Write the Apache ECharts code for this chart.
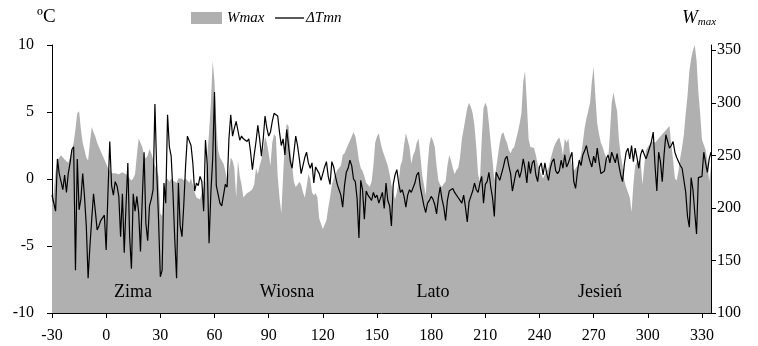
<!DOCTYPE html>
<html><head><meta charset="utf-8">
<script src="https://cdn.jsdelivr.net/npm/echarts@6/dist/echarts.min.js"></script>
<style>html,body{margin:0;padding:0;background:#fff}#c{width:758px;height:346px}</style>
</head><body><div id="c"></div>
<script>
const startDay = -30;
const xTicks = [-30,0,30,60,90,120,150,180,210,240,270,300,330];
const leftTicks = [-10,-5,0,5,10];
const rightTicks = [100,150,200,250,300,350];
const seasons = ['Zima','Wiosna','Lato','Jesień'];
const legendNames = ['Wmax','ΔTmn'];
// ΔTmn, daily from day -30 to 335
const dTmn = [
-1.2,-1.8,-2.4,1.5,0.4,0.4,-0.8,0.3,-1.0,0.4,
1.2,2.2,2.4,-6.8,1.5,-2.3,-1.5,0.4,-1.3,-3.5,
-7.4,-5.0,-3.0,-1.1,-2.4,-3.8,-3.5,-3.1,-2.9,-2.7,
-5.3,-1.0,2.8,-0.5,-1.2,-0.2,-0.5,-1.3,-4.3,-1.1,
-5.5,-2.0,1.2,-4.3,-6.7,-1.1,-2.4,-1.3,-2.5,-5.4,
-1.5,2.0,-3.3,-4.6,-2.0,-1.5,-0.8,5.6,0.7,-3.0,
-7.3,-6.8,-0.3,-1.8,4.8,2.4,1.7,-1.0,-4.5,-7.4,
-0.3,-3.5,-4.3,-1.9,1.0,3.2,3.2,2.5,1.2,-0.9,
-0.3,-0.5,0.2,-0.2,-2.4,2.9,1.0,-4.8,-1.0,1.5,
6.5,-0.5,-0.4,-1.8,-2.0,-2.1,-0.4,-0.6,3.0,4.8,
3.2,3.8,4.3,3.6,2.9,3.2,3.0,3.0,2.8,3.0,
2.0,0.7,1.8,2.8,4.0,3.0,1.7,3.0,4.7,3.8,
3.2,3.5,4.3,4.9,4.8,4.7,3.5,2.5,3.0,1.8,
3.7,2.5,1.3,0.8,2.0,3.2,2.5,1.5,0.4,1.0,
1.6,2.0,1.2,0.8,1.2,-0.3,0.9,1.0,0.4,-0.1,
0.0,0.9,1.3,0.2,-0.4,1.3,0.9,0.2,-0.4,-0.8,
-1.2,-2.1,-0.5,0.5,0.8,1.4,1.0,0.0,-0.2,-1.5,
-4.4,-0.1,-0.8,-3.0,-0.9,-1.2,-1.2,-1.6,-1.0,-1.4,
-1.2,-1.8,-1.7,-1.0,-2.2,-0.3,-1.6,-2.0,-3.5,-0.4,
0.3,0.7,-0.3,-1.0,-0.8,-1.3,-2.1,-1.2,-0.8,-1.0,
-0.9,-0.3,0.3,0.5,-0.6,-1.3,-2.0,-2.5,-1.8,-1.6,
-1.3,-1.5,-1.9,-2.6,-1.4,-0.6,-1.5,-2.1,-3.1,-1.6,
-0.9,-0.8,-0.7,-1.0,-1.1,-1.4,-1.6,-1.8,-1.2,-2.1,
-3.2,-1.7,-1.3,-0.9,-0.3,-0.8,-1.0,-0.3,0.2,-1.8,
-0.4,-0.2,0.5,-0.6,-1.4,-2.8,0.5,0.2,-0.1,0.4,
0.9,1.5,1.7,1.0,0.4,-0.9,-0.2,0.5,0.7,0.1,
0.6,1.5,0.8,-0.3,1.3,0.4,1.2,1.4,0.3,-0.2,
0.9,1.2,0.3,1.2,0.4,-0.1,0.8,1.3,1.5,0.6,
0.4,0.6,1.4,0.8,1.8,0.9,1.2,1.6,2.0,-0.2,
-0.7,0.5,1.4,1.0,1.8,2.1,2.5,1.8,1.3,0.9,
1.7,1.2,2.3,1.3,0.4,0.3,0.6,1.5,1.8,1.2,
2.0,1.6,1.2,1.9,1.0,0.3,-0.2,1.1,2.0,2.3,
1.5,2.5,1.3,2.3,1.6,0.8,1.8,2.2,2.3,1.5,
1.9,1.8,2.8,3.5,1.0,-0.9,2.0,1.3,-0.2,1.8,
3.3,2.8,2.3,2.5,2.8,2.0,1.6,1.3,1.0,0.8,
0.8,-1.0,-2.8,-3.6,0.1,-0.8,-2.5,-4.1,0.1,0.2,
0.2,2.0,1.2,0.5,1.5,2.0
];
// Wmax, daily from day -30 to 335
const wMax = [
205,215,235,245,248,250,248,246,245,243,
248,255,262,275,290,292,275,262,255,248,
245,262,277,272,268,262,258,254,250,246,
242,238,236,233,234,233,232,232,231,234,
233,232,230,228,226,228,232,250,266,262,
258,250,247,250,256,252,246,240,236,230,
195,192,215,226,228,225,228,226,226,224,
228,227,228,226,228,226,224,228,222,215,
210,210,208,215,220,225,250,272,300,340,
320,280,255,248,245,242,235,226,235,248,
245,238,210,245,230,222,210,212,214,215,
216,218,222,238,232,240,246,255,268,262,
252,240,262,270,268,230,210,195,230,263,
280,278,255,240,225,220,222,225,222,215,
210,220,232,228,215,212,214,210,190,185,
180,180,188,200,210,222,228,232,236,238,
240,250,252,256,260,264,268,272,268,258,
245,238,235,230,224,222,220,225,240,262,
268,271,262,255,250,245,240,232,222,215,
208,215,225,240,245,260,271,272,258,242,
250,254,262,266,250,232,222,212,240,260,
268,264,258,240,226,222,220,223,225,240,
250,245,238,232,236,238,248,265,275,285,
295,300,296,290,278,258,232,225,265,295,
300,296,280,262,245,226,238,250,262,270,
272,266,262,255,252,256,258,265,272,280,
290,320,330,300,265,258,257,257,250,242,
235,232,228,232,235,238,245,252,258,262,
265,267,260,250,266,262,266,250,240,235,
236,240,245,250,262,276,285,292,300,320,
334,305,280,270,262,258,252,248,245,270,
300,310,300,292,265,250,240,226,220,215,
210,196,222,240,244,244,245,222,240,255,
258,260,262,264,262,264,266,266,270,272,
274,276,278,260,246,228,226,235,248,258,
270,290,307,330,342,350,355,340,310,290,
265,260,255,245,225,240
];
const tData = dTmn.map((v,i)=>[startDay+i, v]);
const wData = wMax.map((v,i)=>[startDay+i, v]);
const serif = '"Liberation Serif","Times New Roman",serif';
const gray = '#b0b0b0';
const chart = echarts.init(document.getElementById('c'), null, {renderer:'canvas'});
const axisLine = {show:true, onZero:false, lineStyle:{color:'#000', width:1}};
const seasonX = [133, 287, 433, 600];
const txt = (x, y, text, extra) => Object.assign({type:'text', x:x, y:y, z:100,
  style:Object.assign({text:text, font:'18px '+serif, fill:'#000', align:'center', verticalAlign:'middle'}, extra||{})});
chart.setOption({
  animation:false,
  backgroundColor:'#fff',
  grid:{left:52, right:47, top:45, bottom:33},
  xAxis:{type:'value', min:-30, max:335, interval:30,
    axisLine:axisLine, splitLine:{show:false},
    axisTick:{show:true, length:5, customValues:xTicks, lineStyle:{color:'#000'}},
    axisLabel:{customValues:xTicks, fontFamily:serif, fontSize:16, color:'#000', margin:15}},
  yAxis:[
    {type:'value', min:-10, max:10, interval:5, position:'left',
      axisLine:axisLine, splitLine:{show:false},
      axisTick:{show:true, length:5, lineStyle:{color:'#000'}},
      axisLabel:{fontFamily:serif, fontSize:16, color:'#000', margin:18}},
    {type:'value', min:100, max:355, interval:50, position:'right',
      axisLine:axisLine, splitLine:{show:false},
      axisTick:{show:true, length:5, customValues:rightTicks, lineStyle:{color:'#000'}},
      axisLabel:{customValues:rightTicks, fontFamily:serif, fontSize:16, color:'#000', margin:6}}
  ],
  series:[
    {name:legendNames[0], type:'line', yAxisIndex:1, data:wData, symbol:'none', color:gray,
      lineStyle:{width:0}, areaStyle:{color:gray, opacity:1, origin:'start'}, z:1},
    {name:legendNames[1], type:'line', yAxisIndex:0, data:tData, symbol:'none', color:'#000',
      lineStyle:{width:1.2, color:'#000'}, z:2}
  ],
  graphic:[
    {type:'rect', z:100, shape:{x:191, y:12, width:31, height:12}, style:{fill:gray}},
    txt(227, 18, legendNames[0], {align:'left', font:'italic 15px '+serif}),
    {type:'line', z:100, shape:{x1:275, y1:18, x2:304, y2:18}, style:{stroke:'#000', lineWidth:1.3}},
    txt(306, 18, legendNames[1], {align:'left', font:'italic 15px '+serif}),
    {type:'text', left:37, top:8, z:100, style:{text:'ºC', font:'19px '+serif, fill:'#000'}},
    {type:'text', left:682, top:8, z:100, style:{text:'{w|W}{m|max}', font:'18px '+serif, fill:'#000',
      rich:{w:{fontFamily:serif, fontStyle:'italic', fontSize:19}, m:{fontFamily:serif, fontStyle:'italic', fontSize:11, padding:[10,0,0,0]}}}},
    txt(seasonX[0], 292, seasons[0]),
    txt(seasonX[1], 292, seasons[1]),
    txt(seasonX[2], 292, seasons[2]),
    txt(seasonX[3], 292, seasons[3])
  ]
});
</script></body></html>
